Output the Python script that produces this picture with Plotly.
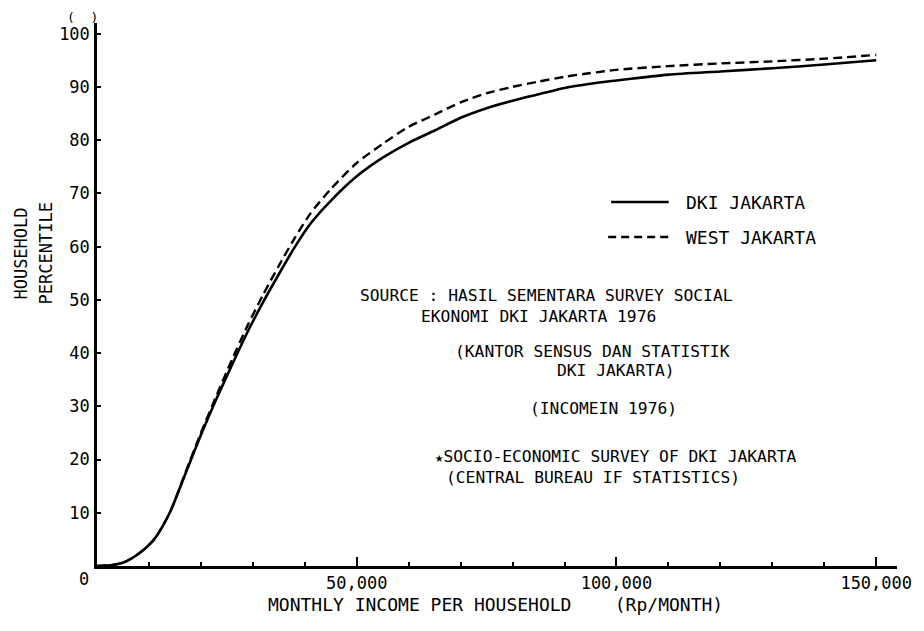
import plotly.graph_objects as go

# ---- data (income in Rp/month, cumulative household percentile) ----
income = [0, 3000, 5000, 8000, 11000, 14000, 17000, 20000, 23000, 26000, 29000,
          32000, 35000, 38000, 41000, 45000, 50000, 55000, 60000, 65000, 70000,
          75000, 80000, 85000, 90000, 95000, 100000, 110000, 120000, 130000,
          140000, 150000]
dki_jakarta = [0, 0.2, 0.6, 2.3, 5.0, 10.0, 17.3, 24.6, 31.4, 37.8, 44.0,
               49.6, 54.8, 59.8, 64.2, 68.6, 73.2, 76.7, 79.5, 81.8, 84.2,
               86.0, 87.4, 88.6, 89.8, 90.6, 91.2, 92.3, 92.9, 93.5,
               94.2, 95.0]
west_jakarta = [0, 0.2, 0.6, 2.3, 5.0, 10.0, 17.5, 25.0, 32.0, 38.8, 45.2,
                51.0, 56.4, 61.5, 66.1, 70.8, 75.7, 79.3, 82.5, 84.8, 87.1,
                88.8, 90.0, 91.0, 91.9, 92.6, 93.2, 93.9, 94.4, 94.8,
                95.3, 96.0]
x_tickvals = [50000, 100000, 150000]
x_ticktext = ["50,000", "100,000", "150,000"]
y_tickvals = [10, 20, 30, 40, 50, 60, 70, 80, 90, 100]
series_names = ["DKI JAKARTA", "WEST JAKARTA"]

FONT = "DejaVu Sans Mono"
OFF = 8  # page body margin offset
W, H = 924 - OFF, 631 - OFF
L, R, T, B = 97 - OFF, 21, 23 - OFF, 65
PW, PH = W - L - R, H - T - B


def px(xp):
    return (xp - OFF - L) / PW


def py(yp):
    return (H - B - (yp - OFF)) / PH


fig = go.Figure()
fig.add_trace(go.Scatter(x=income, y=dki_jakarta, mode="lines", name=series_names[0],
                         line=dict(color="black", width=2.6, shape="spline", smoothing=0.7)))
fig.add_trace(go.Scatter(x=income, y=west_jakarta, mode="lines", name=series_names[1],
                         line=dict(color="black", width=2.4, dash="9px,5px",
                                   shape="spline", smoothing=0.7)))

annotations = []
shapes = []

# legend (drawn manually to match the original's long line samples)
shapes.append(dict(type="line", xref="paper", yref="paper", x0=px(615), x1=px(673),
                   y0=py(202), y1=py(202), line=dict(color="black", width=2.6)))
shapes.append(dict(type="line", xref="paper", yref="paper", x0=px(612), x1=px(673),
                   y0=py(237), y1=py(237), line=dict(color="black", width=2.4, dash="8px,5px")))
for name, y in ((series_names[0], 202), (series_names[1], 237)):
    annotations.append(dict(text=name, x=px(689), y=py(y), font_size=18))

notes = [
    ("SOURCE : HASIL SEMENTARA SURVEY SOCIAL", 361, 296),
    ("EKONOMI DKI JAKARTA 1976", 422, 316),
    ("(KANTOR SENSUS DAN STATISTIK", 457, 351),
    ("DKI JAKARTA)", 559, 371),
    ("(INCOMEIN 1976)", 532, 408),
    ("<span style='font-size:14px'>★</span>SOCIO-ECONOMIC SURVEY OF DKI JAKARTA", 437, 456),
    ("(CENTRAL BUREAU IF STATISTICS)", 448, 477),
]
for t, x, y in notes:
    annotations.append(dict(text=t, x=px(x), y=py(y), font_size=16.3))

for a in annotations:
    size = a.pop("font_size")
    a.update(xref="paper", yref="paper", xanchor="left", yanchor="middle",
             showarrow=False, borderpad=0, font=dict(family=FONT, size=size, color="black"))

# origin "0" label and unit marker
annotations.append(dict(text="0", xref="paper", yref="paper", x=px(84), y=py(579),
                        xanchor="center", yanchor="middle", showarrow=False,
                        font=dict(family=FONT, size=17, color="black")))
annotations.append(dict(text="(  )", xref="paper", yref="paper", x=px(82), y=py(17),
                        xanchor="center", yanchor="middle", showarrow=False, borderpad=0,
                        font=dict(family=FONT, size=13, color="black")))
# y-axis title, two rotated lines
annotations.append(dict(text="HOUSEHOLD", xref="paper", yref="paper", x=px(20), y=py(254),
                        xanchor="center", yanchor="middle", showarrow=False, textangle=-90,
                        font=dict(family=FONT, size=17, color="black")))
annotations.append(dict(text="PERCENTILE", xref="paper", yref="paper", x=px(46), y=py(253),
                        xanchor="center", yanchor="middle", showarrow=False, textangle=-90,
                        font=dict(family=FONT, size=17, color="black")))
# x-axis title
annotations.append(dict(text="MONTHLY INCOME PER HOUSEHOLD    (Rp/MONTH)", xref="paper", yref="paper",
                        x=px(498), y=py(604), xanchor="center", yanchor="middle", showarrow=False,
                        font=dict(family=FONT, size=18, color="black")))

fig.update_layout(
    width=W, height=H,
    margin=dict(l=L, r=R, t=T, b=B),
    paper_bgcolor="white", plot_bgcolor="white",
    showlegend=False,
    annotations=annotations,
    shapes=shapes,
    font=dict(family=FONT, size=17, color="black"),
)
fig.update_xaxes(range=[0, 154000], showgrid=False, zeroline=False,
                 showline=True, linecolor="black", linewidth=2.5,
                 tickvals=x_tickvals, ticktext=x_ticktext,
                 ticks="inside", ticklen=9, tickwidth=1.5, tickcolor="black",
                 tickfont=dict(family=FONT, size=17, color="black"),
                 minor=dict(dtick=10000, tick0=0, ticks="inside", ticklen=4,
                            tickwidth=1.5, tickcolor="black"))
fig.update_yaxes(range=[0, 102], showgrid=False, zeroline=False,
                 showline=True, linecolor="black", linewidth=2.5,
                 tickvals=y_tickvals,
                 ticks="inside", ticklen=4, tickwidth=1.5, tickcolor="black",
                 ticklabelstandoff=1,
                 tickfont=dict(family=FONT, size=17, color="black"))

fig.write_html("out.html")
